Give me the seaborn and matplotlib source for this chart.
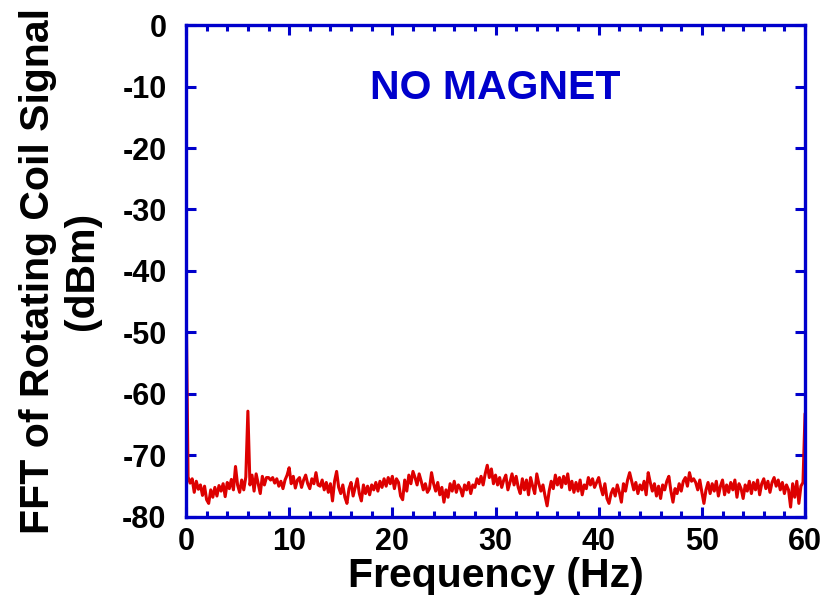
import numpy as np
import pandas as pd
import matplotlib
matplotlib.use("Agg")
import matplotlib.pyplot as plt
import seaborn as sns
from matplotlib.ticker import MultipleLocator

# Frequency grid (Hz), 0.2 Hz step
freq_step = 0.2
# FFT amplitude (dBm), 0.0 .. 60.0 Hz
fft_0_10 = [-42.0, -73.5, -74.5, -73.8, -76.0, -74.2, -75.5, -74.8, -76.5, -75.0,
            -77.2, -77.8, -75.6, -76.8, -75.2, -76.6, -74.9, -75.8, -74.6, -76.7,
            -74.4, -75.4, -73.9, -75.6, -71.8, -74.8, -76.0, -74.0, -75.6, -73.5,
            -62.8, -74.8, -73.2, -75.8, -73.0, -74.6, -76.2, -73.4, -74.8, -73.6,
            -73.6, -74.0, -73.6, -74.5, -73.8, -75.0, -74.2, -75.4, -74.0, -73.2,
            -72.0]
fft_10_20 = [-74.6, -73.4, -75.3, -74.0, -73.6, -75.2, -74.0, -73.2, -74.6, -75.4,
             -73.8, -74.6, -72.8, -74.8, -75.0, -74.0, -75.6, -74.4, -76.0, -74.6,
             -77.4, -74.2, -72.6, -75.2, -76.2, -74.8, -76.8, -77.8, -75.4, -74.4,
             -76.6, -75.2, -73.8, -76.2, -77.4, -74.8, -76.2, -75.0, -76.4, -74.8,
             -75.6, -74.4, -75.8, -74.2, -75.2, -73.8, -75.0, -73.6, -74.6, -73.4]
fft_20_30 = [-75.4, -73.8, -74.4, -76.6, -77.2, -74.0, -75.8, -73.2, -74.6, -72.6,
             -73.6, -74.8, -73.0, -74.2, -75.6, -74.6, -76.0, -75.4, -72.8, -74.6,
             -75.8, -74.4, -76.4, -75.2, -77.6, -75.6, -76.8, -74.6, -75.8, -74.2,
             -76.0, -74.8, -75.4, -76.6, -74.8, -75.6, -74.4, -76.2, -74.8, -75.2,
             -73.8, -74.6, -73.4, -74.8, -73.0, -71.6, -73.6, -72.2, -74.6, -73.2]
fft_30_40 = [-74.8, -73.6, -75.2, -74.0, -73.2, -75.6, -74.4, -73.0, -74.8, -73.4,
             -75.2, -76.2, -73.8, -75.6, -74.0, -76.4, -73.6, -75.0, -76.2, -73.0,
             -74.6, -75.8, -74.8, -76.6, -78.2, -75.8, -74.2, -75.4, -73.2, -74.8,
             -73.6, -75.2, -73.4, -74.6, -73.0, -75.6, -74.2, -76.0, -74.4, -75.8,
             -74.0, -76.4, -74.8, -75.4, -73.6, -74.8, -73.8, -75.2, -74.4, -73.6]
fft_40_50 = [-75.2, -76.4, -74.6, -77.0, -77.8, -76.2, -75.4, -76.6, -74.8, -76.0,
             -77.6, -74.6, -75.8, -74.0, -72.8, -74.2, -75.6, -74.4, -76.2, -74.8,
             -75.6, -74.2, -76.4, -72.8, -74.4, -75.8, -74.6, -76.6, -75.0, -77.0,
             -74.8, -75.6, -74.2, -73.4, -75.8, -77.6, -75.4, -76.2, -74.6, -75.8,
             -74.2, -73.6, -75.0, -72.8, -74.2, -73.8, -74.4, -75.6, -74.0, -76.0]
fft_50_60 = [-77.8, -75.6, -74.4, -76.2, -74.6, -75.8, -74.2, -76.6, -75.0, -74.0,
             -76.4, -74.8, -76.0, -74.4, -75.6, -74.0, -76.8, -74.6, -75.4, -77.0,
             -74.8, -75.8, -74.2, -76.2, -74.4, -75.6, -74.0, -76.4, -74.6, -73.8,
             -75.4, -74.2, -76.0, -74.4, -73.6, -75.0, -74.0, -75.6, -74.4, -76.2,
             -74.8, -75.6, -78.4, -74.6, -76.8, -74.2, -77.8, -75.0, -74.4, -63.2]

amplitude = fft_0_10 + fft_10_20 + fft_20_30 + fft_30_40 + fft_40_50 + fft_50_60
frequency = [round(i * freq_step, 1) for i in range(len(amplitude))]

x_ticks = [0, 10, 20, 30, 40, 50, 60]
y_ticks = [0, -10, -20, -30, -40, -50, -60, -70, -80]
annotation = "NO MAGNET"
x_label = "Frequency (Hz)"
y_label = "FFT of Rotating Coil Signal\n(dBm)"

df = pd.DataFrame({"freq": frequency, "dbm": amplitude})

sns.set_style("ticks")
plt.rcParams["font.family"] = ["Liberation Sans", "DejaVu Sans"]
plt.rcParams["font.weight"] = "bold"
plt.rcParams["axes.unicode_minus"] = False
plt.rcParams["text.color"] = "black"
plt.rcParams["axes.labelcolor"] = "black"
plt.rcParams["xtick.labelcolor"] = "black"
plt.rcParams["ytick.labelcolor"] = "black"

frame_blue = "#0000CC"
line_red = "#DD0000"

fig = plt.figure(figsize=(8.24, 6.06), dpi=100)
ax = fig.add_axes([0.2257, 0.147, 0.7513, 0.8117])
sns.lineplot(data=df, x="freq", y="dbm", ax=ax, color=line_red, linewidth=2.2)

ax.set_xlim(0, 60)
ax.set_ylim(-80, 0)
ax.set_xticks(x_ticks)
ax.set_yticks(y_ticks)
ax.xaxis.set_minor_locator(MultipleLocator(2))

for sp in ax.spines.values():
    sp.set_color(frame_blue)
    sp.set_linewidth(2.4)

ax.tick_params(axis="both", which="major", direction="in", length=7.5, width=2.2,
               color=frame_blue, labelcolor="black", top=True, right=True,
               labelsize=22, pad=7)
ax.tick_params(axis="y", which="major", pad=14)
ax.tick_params(axis="x", which="minor", direction="in", length=4, width=2.2,
               color=frame_blue, top=True, bottom=True)
for lab in ax.get_xticklabels() + ax.get_yticklabels():
    lab.set_fontweight("bold")
    lab.set_color("black")

ax.set_xlabel(x_label, fontsize=29.5, fontweight="bold", labelpad=0, color="black")
ax.set_ylabel(y_label, fontsize=29.5, fontweight="bold",
              linespacing=1.2, color="black")
ax.yaxis.set_label_coords(-0.137, 0.5)

ax.text(30, -10.3, annotation, color=frame_blue, fontsize=29.5, fontweight="bold",
        ha="center", va="center")

fig.savefig("out.png", dpi=100)
